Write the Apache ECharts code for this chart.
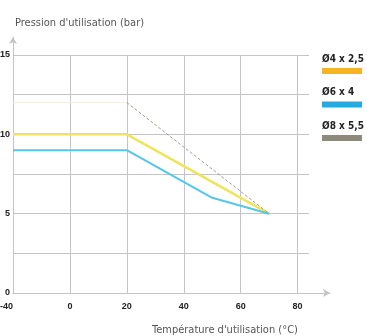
<!DOCTYPE html>
<html><head><meta charset="utf-8">
<script src="https://cdn.jsdelivr.net/npm/echarts@6/dist/echarts.min.js"></script>
<style>html,body{margin:0;padding:0;background:#fff}#c{width:367px;height:336px}</style>
</head><body><div id="c"></div>
<script>
// Data (temperature °C, pressure bar)
const seriesNames = ['Ø4 x 2,5', 'Ø6 x 4', 'Ø8 x 5,5'];
const s4x25 = [[-40, 10], [20, 10], [70, 5]];
const s6x4 = [[-40, 9], [20, 9], [50, 6], [70, 5]];
const s8x55 = [[-40, 12], [20, 12], [70, 5]];
const xTickLabels = ['-40', '0', '20', '40', '60', '80'];
const yTickLabels = ['0', '5', '10', '15'];
const yTitle = "Pression d'utilisation (bar)";
const xTitle = "Température d'utilisation (°C)";

// The original x axis is broken: the -40..0 span occupies a single 20° step.
const toAxis = t => (t < 0 ? t / 2 : t);
const conv = arr => arr.map(p => [toAxis(p[0]), p[1]]);
const axisVals = [-20, 0, 20, 40, 60, 80];

const FONT = "'Liberation Sans Narrow', 'DejaVu Sans Condensed', 'Liberation Sans', sans-serif";
const NUMFONT = "'Liberation Sans', Arial, sans-serif";
const gridCol = '#c4c4c8';
const lineColors = ['#efe55c', '#57c6ea', '#a39d8c'];
const legendColors = ['#f6b424', '#27a9e1', '#8d8a7c'];

const chart = echarts.init(document.getElementById('c'), null, {renderer: 'canvas'});
const option = {
  animation: false,
  backgroundColor: '#fff',
  title: [
    {text: yTitle, left: 10, top: 13, textStyle: {fontFamily: FONT, fontSize: 11, fontWeight: 'normal', color: '#555'}},
    {text: xTitle, left: 147, top: 320, textStyle: {fontFamily: FONT, fontSize: 11, fontWeight: 'normal', color: '#555'}}
  ],
  grid: [
    {left: 13, right: 58, top: 55, bottom: 43, outerBoundsMode: 'none', containLabel: false},
    {left: 13, right: 37, top: 37, bottom: 43, outerBoundsMode: 'none', containLabel: false}
  ],
  xAxis: [{
    type: 'value', gridIndex: 0, min: -20, max: 84, interval: 20,
    axisLine: {show: true, onZero: false, lineStyle: {color: gridCol}},
    axisTick: {show: false},
    splitLine: {show: true, showMinLine: false, showMaxLine: false, lineStyle: {color: gridCol, width: 1}},
    axisLabel: {
      showMaxLabel: false, alignMinLabel: 'right', margin: 9,
      fontFamily: NUMFONT, fontSize: 9, fontWeight: 'bold', color: '#222',
      formatter: v => { const i = axisVals.indexOf(v); return i >= 0 ? xTickLabels[i] : ''; }
    }
  }, {
    type: 'value', gridIndex: 1, min: 0, max: 1,
    axisLine: {show: true, onZero: false, symbol: ['none', 'arrow'], symbolSize: [6, 7], lineStyle: {color: gridCol}},
    axisTick: {show: false}, axisLabel: {show: false}, splitLine: {show: false}
  }],
  yAxis: [{
    type: 'value', gridIndex: 0, min: 0, max: 15, interval: 2.5,
    axisLine: {show: true, onZero: false, lineStyle: {color: gridCol}},
    axisTick: {show: false},
    splitLine: {show: true, lineStyle: {color: gridCol, width: 1}},
    axisLabel: {
      margin: 3, fontFamily: NUMFONT, fontSize: 9, fontWeight: 'bold', color: '#222',
      formatter: v => (v % 5 === 0 ? yTickLabels[v / 5] : '')
    }
  }, {
    type: 'value', gridIndex: 1, min: 0, max: 1,
    axisLine: {show: true, onZero: false, symbol: ['none', 'arrow'], symbolSize: [6, 7], lineStyle: {color: gridCol}},
    axisTick: {show: false}, axisLabel: {show: false}, splitLine: {show: false}
  }],
  series: [
    {name: seriesNames[2] + ' ', type: 'line', data: conv(s8x55.slice(0, 2)), symbol: 'none', silent: true,
     lineStyle: {color: '#f3f0d6', width: 1}},
    {name: seriesNames[0], type: 'line', data: conv(s4x25), symbol: 'none',
     lineStyle: {color: lineColors[0], width: 2.5}},
    {name: seriesNames[1], type: 'line', data: conv(s6x4), symbol: 'none',
     lineStyle: {color: lineColors[1], width: 2}},
    {name: seriesNames[2], type: 'line', data: conv(s8x55.slice(1)), symbol: 'none',
     lineStyle: {color: lineColors[2], width: 1, type: [3, 2]}}
  ],
  graphic: seriesNames.flatMap((n, i) => [
    {type: 'text', left: 322, top: 54 + i * 33.5,
     style: {text: n, font: 'bold 10px ' + FONT, fill: '#222'}},
    {type: 'rect', left: 322, top: 68 + i * 33.5, shape: {width: 40, height: 6},
     style: {fill: legendColors[i]}}
  ])
};
chart.setOption(option);
</script>
</body></html>
